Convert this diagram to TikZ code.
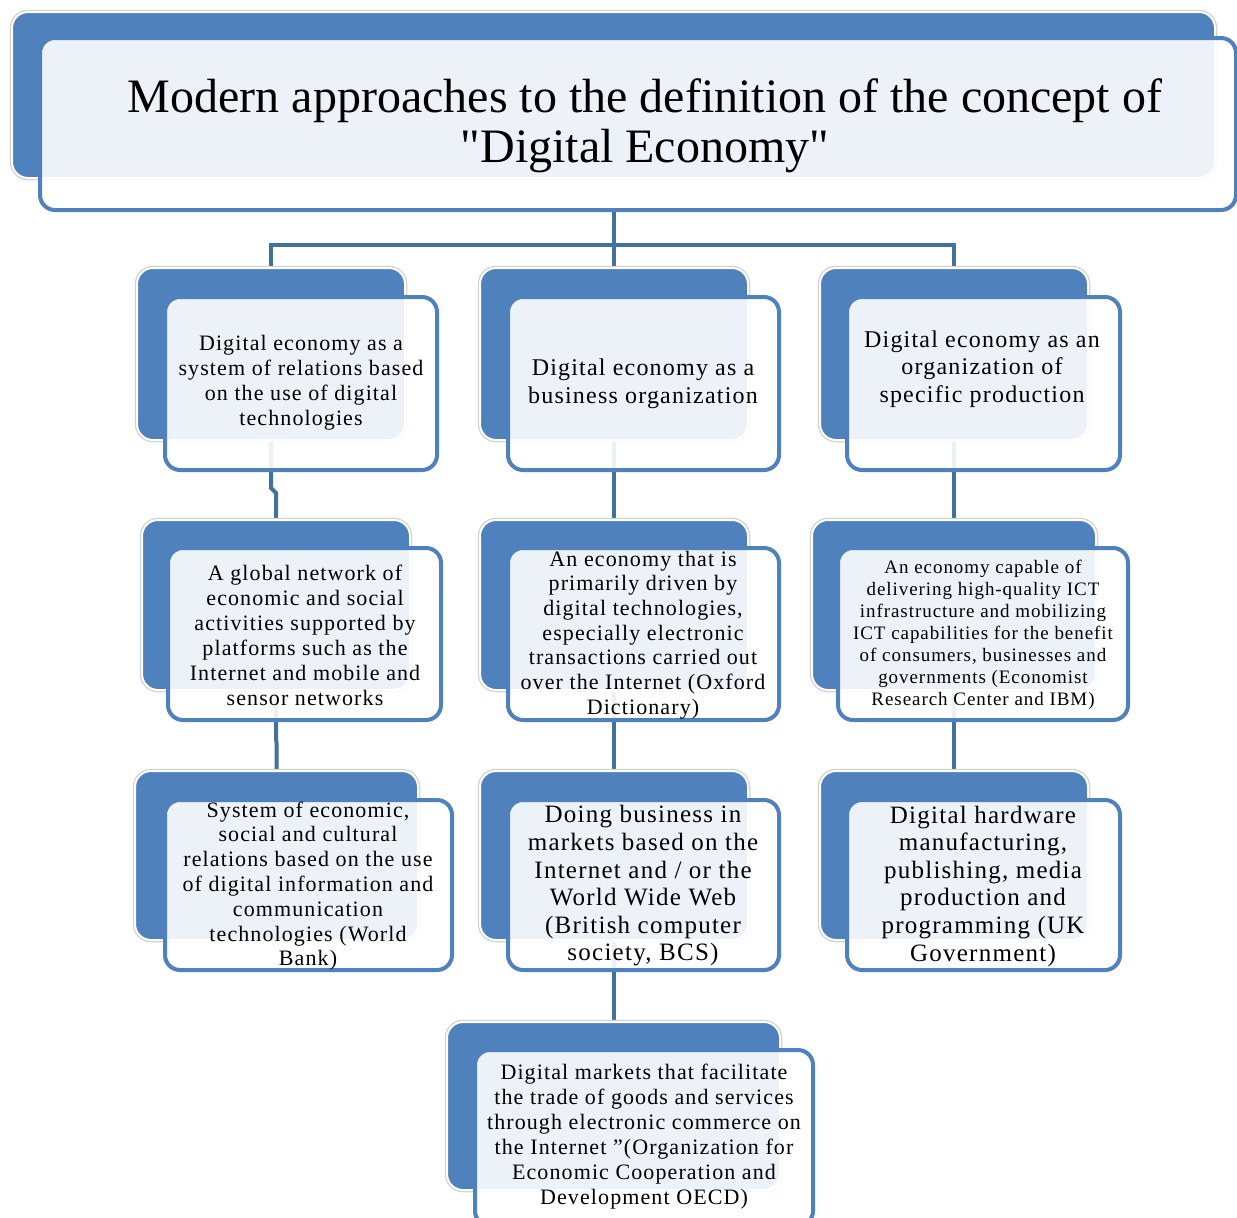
\documentclass[tikz,border=0pt]{standalone}
\usepackage{fontspec}
\setmainfont{Liberation Serif}[Ligatures=TeXOff]
\newfontfamily\boxfont{Liberation Serif}[Ligatures=TeXOff, LetterSpace=5]
\usetikzlibrary{fit,calc}
\definecolor{backblue}{HTML}{4F81BD}
\definecolor{edgeblue}{HTML}{4F81BD}
\definecolor{linkblue}{HTML}{41719C}
\pgfdeclarelayer{paper}
\pgfdeclarelayer{bg}
\pgfsetlayers{paper,bg,main}
\tikzset{
  backbox/.style={fill=backblue, draw=white, line width=2pt, rounded corners=16pt,
    inner sep=0pt, outer sep=0pt, preaction={draw=black!18, line width=4.5pt}},
  frontbox/.style={fill=white, fill opacity=0.9, draw=edgeblue, line width=4pt,
    rounded corners=15pt, inner sep=0pt, outer sep=0pt},
  txt/.style={align=center, inner sep=0pt, text=black},
  link/.style={draw=linkblue, line width=4pt},
}
\begin{document}
\begin{tikzpicture}[x=1pt,y=-1pt]
\useasboundingbox (0,0) rectangle (1237,1218);
\begin{pgfonlayer}{paper}
\fill[white] (0,0) rectangle (1237,1218);
\end{pgfonlayer}
% title
\node[backbox, fit={(12,12) (1215,178)}] (tb) {};
\node[frontbox, fit={(40,38) (1236,210)}] (tf) {};
\node[txt, font={\fontsize{48}{50}\selectfont}] (tt) at (645,126)
  {Modern approaches to the definition of the concept of\\"Digital Economy"};
% row 1
\node[backbox, fit={(137,268) (405,440)}] (b11) {};
\node[frontbox, fit={(165,297) (437,470)}] (f11) {};
\node[backbox, fit={(480,268) (748,440)}] (b12) {};
\node[frontbox, fit={(508,297) (779,470)}] (f12) {};
\node[backbox, fit={(820,268) (1088,440)}] (b13) {};
\node[frontbox, fit={(847,297) (1120,470)}] (f13) {};
% row 2
\node[backbox, fit={(142,520) (410,690)}] (b21) {};
\node[frontbox, fit={(168,548) (441,720)}] (f21) {};
\node[backbox, fit={(480,520) (748,690)}] (b22) {};
\node[frontbox, fit={(508,548) (779,720)}] (f22) {};
\node[backbox, fit={(812,520) (1096,690)}] (b23) {};
\node[frontbox, fit={(838,548) (1128,720)}] (f23) {};
% row 3
\node[backbox, fit={(135,771) (418,940)}] (b31) {};
\node[frontbox, fit={(165,800) (452,970)}] (f31) {};
\node[backbox, fit={(480,771) (748,940)}] (b32) {};
\node[frontbox, fit={(508,800) (779,970)}] (f32) {};
\node[backbox, fit={(820,771) (1088,940)}] (b33) {};
\node[frontbox, fit={(847,800) (1120,970)}] (f33) {};
% row 4
\node[backbox, fit={(447,1022) (780,1190)}] (b42) {};
\node[frontbox, fit={(475,1050) (813,1226)}] (f42) {};
% texts
\node[txt, font={\boxfont\fontsize{22}{25}\selectfont}] (t11) at (301,383)
  {Digital economy as a\\system of relations based\\on the use of digital\\technologies};
\node[txt, font={\boxfont\fontsize{24}{28}\selectfont}] (t12) at (643,384)
  {Digital economy as a\\business organization};
\node[txt, font={\boxfont\fontsize{24}{27.5}\selectfont}] (t13) at (982,369)
  {Digital economy as an\\organization of\\specific production};
\node[txt, font={\boxfont\fontsize{22}{25}\selectfont}] (t21) at (305,635)
  {A global network of\\economic and social\\activities supported by\\platforms such as the\\Internet and mobile and\\sensor networks};
\node[txt, font={\boxfont\fontsize{22}{24.7}\selectfont}] (t22) at (643,635)
  {An economy that is\\primarily driven by\\digital technologies,\\especially electronic\\transactions carried out\\over the Internet (Oxford\\Dictionary)};
\node[txt, font={\boxfont\fontsize{19}{22}\selectfont}] (t23) at (983,635)
  {An economy capable of\\delivering high-quality ICT\\infrastructure and mobilizing\\ICT capabilities for the benefit\\of consumers, businesses and\\governments (Economist\\Research Center and IBM)};
\node[txt, font={\boxfont\fontsize{22}{24.8}\selectfont}] (t31) at (308,886)
  {System of economic,\\social and cultural\\relations based on the use\\of digital information and\\communication\\technologies (World\\Bank)};
\node[txt, font={\boxfont\fontsize{25}{27.6}\selectfont}] (t32) at (643,886)
  {Doing business in\\markets based on the\\Internet and / or the\\World Wide Web\\(British computer\\society, BCS)};
\node[txt, font={\boxfont\fontsize{25}{27.6}\selectfont}] (t33) at (983,886)
  {Digital hardware\\manufacturing,\\publishing, media\\production and\\programming (UK\\Government)};
\node[txt, font={\boxfont\fontsize{22}{25}\selectfont}] (t42) at (644,1137)
  {Digital markets that facilitate\\the trade of goods and services\\through electronic commerce on\\the Internet ”(Organization for\\Economic Cooperation and\\Development OECD)};
% connectors
\begin{pgfonlayer}{bg}
\coordinate (bar) at (613,245);
\draw[link] (b12.north |- tf.south) -- (b12.north);
\draw[link] (b11.north) -- (b11.north |- bar) -- (b13.north |- bar) -- (b13.north);
% left column
\draw[link] (b11.south) -- ($(b11.south |- f11.south)+(0pt,-18pt)$) -- ($(b21.north |- f11.south)+(0pt,-23pt)$) -- (b21.north);
\draw[link] (b21.south) -- ($(b21.south |- f21.south)+(0pt,-18pt)$) -- ($(b31.north |- f21.south)+(0pt,-23pt)$) -- (b31.north);
% middle column
\draw[link] (b12.south) -- (b22.north);
\draw[link] (b22.south) -- (b32.north);
\draw[link] (b32.south) -- (b32.south |- b42.north);
% right column
\draw[link] (b13.south) -- (b23.north);
\draw[link] (b23.south) -- (b33.north);
\end{pgfonlayer}
\end{tikzpicture}
\end{document}
